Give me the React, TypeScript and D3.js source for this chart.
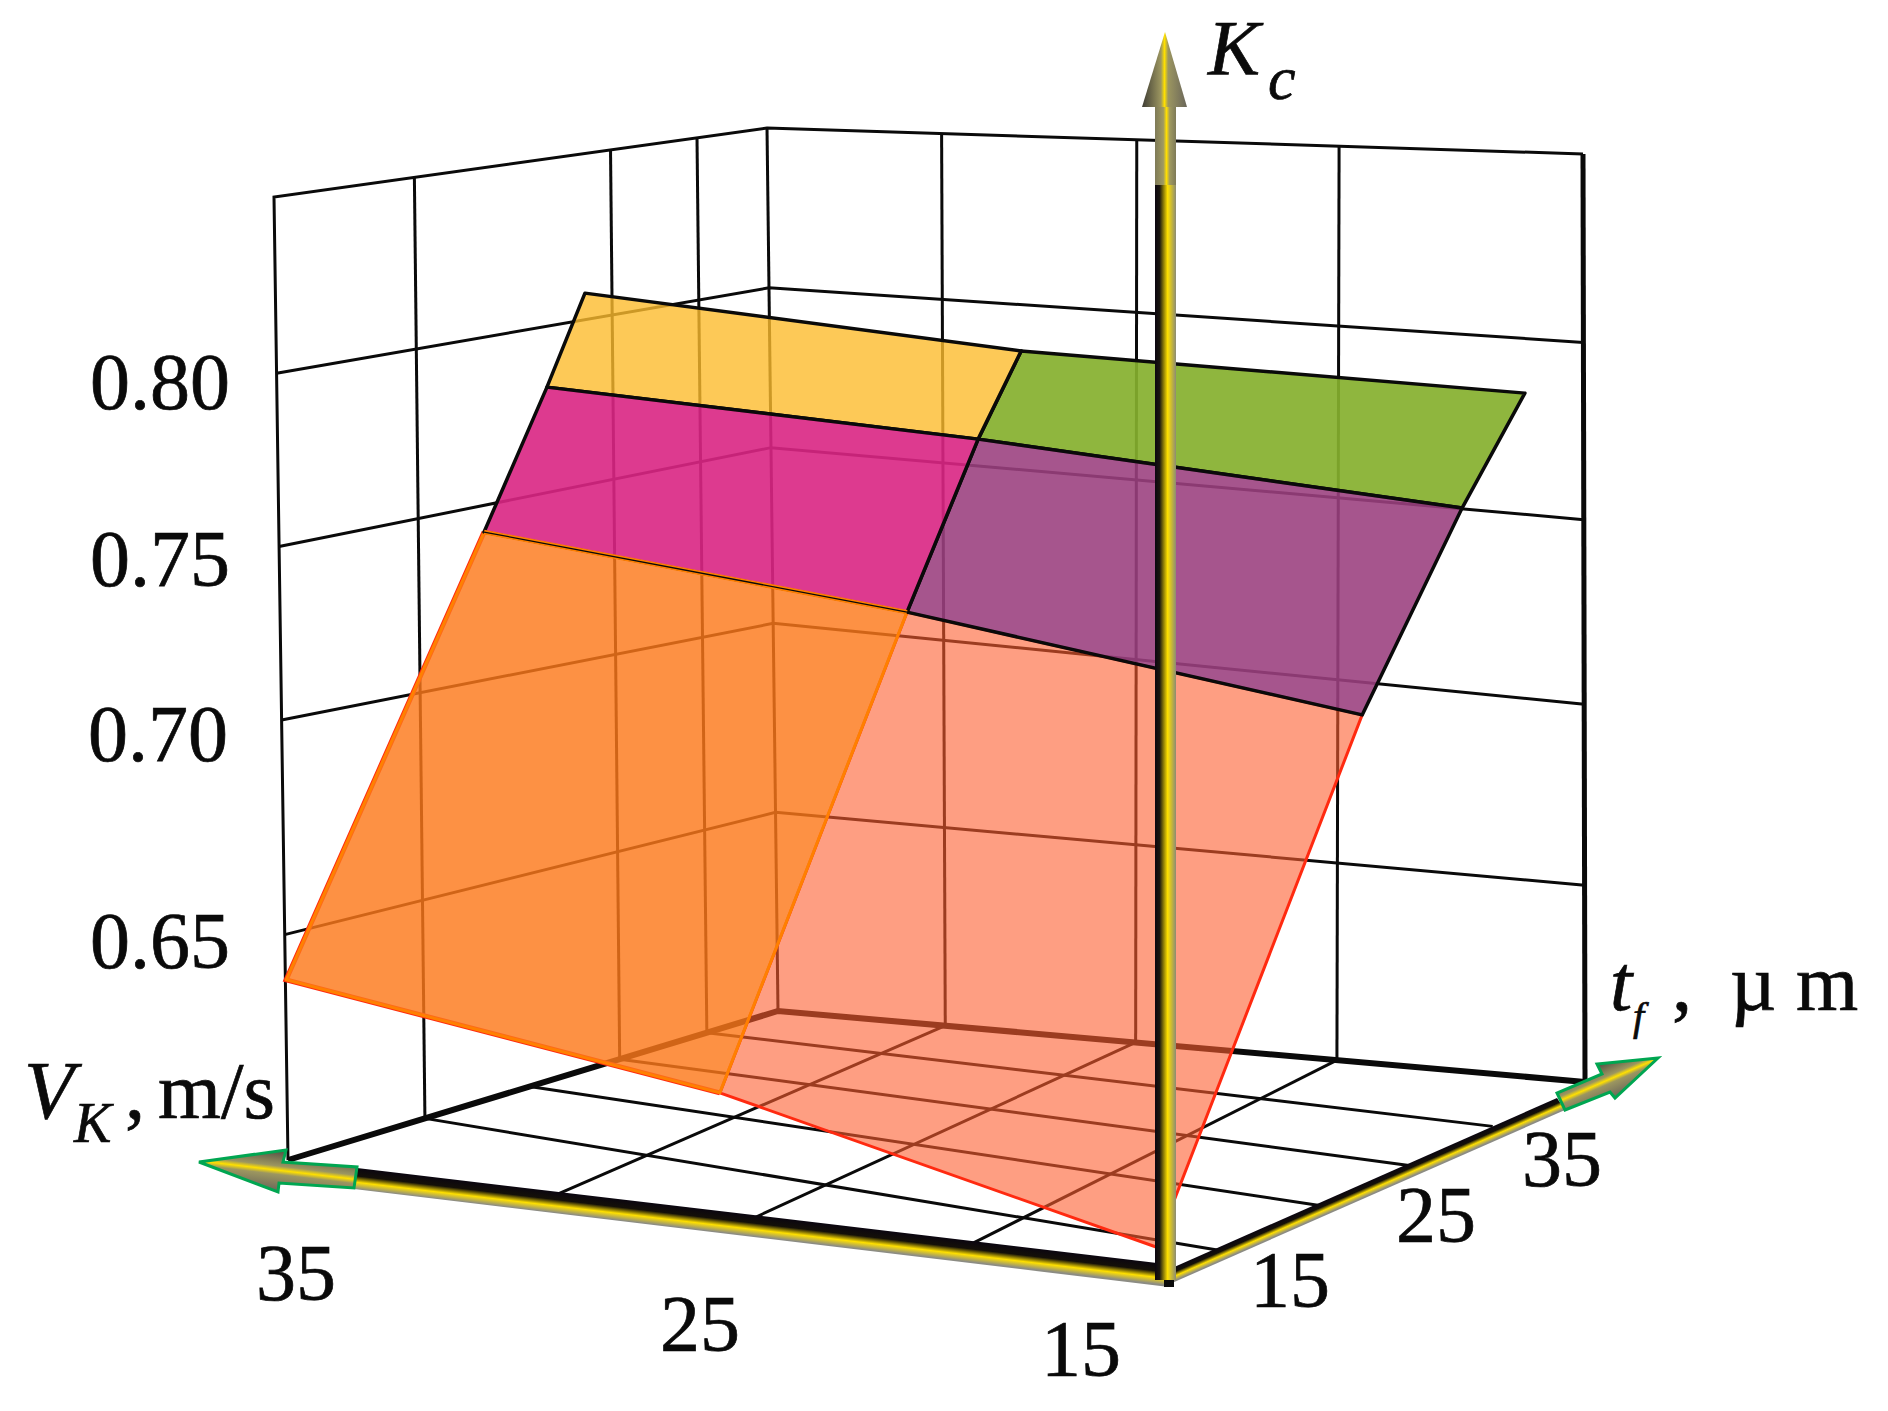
import { useEffect, useRef } from "react";
import * as d3 from "d3";

// box corners on the page: front, left, right, back
const floorX = [1169, 288, 1585, 778];
const floorY = [1282, 1160, 1082, 1011];
const topX = [1214, 274, 1583, 767];
const topY = [242, 197, 154, 128];

const vGridTicks = [20, 25, 30];
const tFloorTicks = [15, 20, 25, 30];
const tWallTicks = [15, 25, 30];
const kTicks = [0.65, 0.7, 0.75, 0.8];
const vMin = 15;
const vMax = 35;
const tMin = 11;
const tMax = 35;

// surface, one row per t_f, columns from the far V_K side to the near one
const tRows = [15, 25, 30, 35];
const surfaceV = [
  [38.28, 28.12, 16.74],
  [38.52, 27.43, 16.23],
  [39.5, 27.39, 15.76],
  [40.68, 27.93, 16.16],
];
const surfaceK = [
  [0.627, 0.6148, 0.5957],
  [0.7324, 0.7203, 0.7044],
  [0.77, 0.7627, 0.7522],
  [0.7959, 0.7838, 0.778],
];

const cellFill = [
  ["#fd791b", "#fd5d2f"],
  ["#da2784", "#9b407f"],
  ["#fcbb2d", "#85b02e"],
];
const cellAlpha = [
  [0.82, 0.6],
  [0.91, 0.89],
  [0.8, 0.92],
];
const cellStroke = [
  ["#ff8000", "#ff2a10"],
  ["#0a0a0a", "#0a0a0a"],
  ["#0a0a0a", "#0a0a0a"],
];

const vBreaks = [15, 20, 25, 30, 35];
const tBreaks = [11, 15, 20, 25, 30, 35];
const scaleVFront = d3.scaleLinear().domain(vBreaks).range([0, 0.207, 0.432, 0.655, 1]);
const scaleVBack = d3.scaleLinear().domain(vBreaks).range([0, 0.272, 0.514, 0.763, 1]);
const scaleTNear = d3.scaleLinear().domain(tBreaks).range([0, 0.124, 0.33, 0.53, 0.74, 1]);
const scaleTFar = d3.scaleLinear().domain(tBreaks).range([0, 0.246, 0.45, 0.638, 0.832, 1]);
const scaleK = d3.scaleLinear().domain(kTicks).range([0.225, 0.439, 0.638, 0.819]);
const scaleKLeft = d3.scaleLinear().domain(kTicks).range([0.234, 0.457, 0.637, 0.817]);
const scaleKRight = d3.scaleLinear().domain(kTicks).range([0.212, 0.407, 0.606, 0.797]);

function solve(A: number[][], b: number[]) {
  const n = b.length;
  const M = A.map((r, i) => [...r, b[i]]);
  for (let c = 0; c < n; c++) {
    let p = c;
    for (let r = c + 1; r < n; r++) if (Math.abs(M[r][c]) > Math.abs(M[p][c])) p = r;
    [M[c], M[p]] = [M[p], M[c]];
    for (let r = 0; r < n; r++) {
      if (r === c) continue;
      const f = M[r][c] / M[c][c];
      for (let k = c; k <= n; k++) M[r][k] -= f * M[c][k];
    }
  }
  return M.map((r, i) => r[n] / r[i]);
}

// maps the unit square on a face of the box to its four corners
function faceMap(xs: number[], ys: number[]) {
  const uv = [[0, 0], [1, 0], [0, 1], [1, 1]];
  const A: number[][] = [];
  const b: number[] = [];
  uv.forEach(([u, v], i) => {
    const x = xs[i] / 1000, y = ys[i] / 1000;
    A.push([u, v, 1, 0, 0, 0, -x * u, -x * v]); b.push(x);
    A.push([0, 0, 0, u, v, 1, -y * u, -y * v]); b.push(y);
  });
  const h = solve(A, b);
  return (u: number, v: number) => {
    const d = h[6] * u + h[7] * v + 1;
    return [((h[0] * u + h[1] * v + h[2]) / d) * 1000, ((h[3] * u + h[4] * v + h[5]) / d) * 1000];
  };
}

const serif = "'Liberation Serif', 'Times New Roman', serif";

export default function App() {
  const svgRef = useRef<SVGSVGElement>(null);

  useEffect(() => {
    const svg = d3.select(svgRef.current);
    svg.selectAll("*").remove();
    const floor = faceMap(floorX, floorY);
    const top = faceMap(topX, topY);
    const project = (V: number, t: number, w: number): [number, number] => {
      const g = (t - tMin) / (tMax - tMin);
      const h = (V - vMin) / (vMax - vMin);
      const u = scaleVFront(V) * (1 - g) + scaleVBack(V) * g;
      const v = scaleTNear(t) * (1 - h) + scaleTFar(t) * h;
      const a = floor(u, v), b = top(u, v);
      return [a[0] + (b[0] - a[0]) * w, a[1] + (b[1] - a[1]) * w];
    };
    const path = d3.line();
    const seg = (pts: [number, number, number][], width: number, color = "#0a0a0a") =>
      svg.append("path").attr("d", path(pts.map((q) => project(q[0], q[1], q[2]))))
        .attr("fill", "none").attr("stroke", color).attr("stroke-width", width);

    // walls
    tWallTicks.forEach((t) => seg([[vMax, t, 0], [vMax, t, 1]], 3));
    vGridTicks.forEach((V) => seg([[V, tMax, 0], [V, tMax, 1]], 3));
    kTicks.forEach((k) => seg([[vMax, tMin, scaleKLeft(k)], [vMax, tMax, scaleK(k)], [vMin, tMax, scaleKRight(k)]], 3));
    seg([[vMax, tMin, 0], [vMax, tMin, 1], [vMax, tMax, 1], [vMin, tMax, 1]], 3);
    seg([[vMax, tMax, 0], [vMax, tMax, 1]], 3);
    seg([[vMin, tMax, 0], [vMin, tMax, 1]], 5);
    // floor
    tFloorTicks.forEach((t) => seg([[vMax, t, 0], [vMin, t, 0]], 3));
    vGridTicks.forEach((V) => seg([[V, tMin, 0], [V, tMax, 0]], 3));
    seg([[vMax, tMin, 0], [vMax, tMax, 0], [vMin, tMax, 0]], 6);

    // surface
    const corner = (r: number, c: number): [number, number, number] => [surfaceV[r][c], tRows[r], scaleK(surfaceK[r][c])];
    const cell = (r: number, c: number) => {
      const pts = [corner(r, c), corner(r, c + 1), corner(r + 1, c + 1), corner(r + 1, c)];
      svg.append("path")
        .attr("d", path(pts.map((q) => project(q[0], q[1], q[2])))! + "Z")
        .attr("fill", cellFill[r][c]).attr("fill-opacity", cellAlpha[r][c])
        .attr("stroke", cellStroke[r][c]).attr("stroke-width", r === 0 ? 3 : 3.5).attr("stroke-linejoin", "round");
    };
    cell(0, 1);
    seg([corner(1, 0), corner(0, 0), corner(0, 1)], 5, "#ff2a10");
    cell(0, 0);
    [[2, 1], [2, 0], [1, 1], [1, 0]].forEach(([r, c]) => cell(r, c));
    seg([corner(1, 0), corner(1, 1)], 4.5, "#ff8000");
    seg([corner(1, 0), corner(1, 1)], 1.3);

    // axes
    const defs = svg.append("defs");
    const grad = (id: string, x1: number, y1: number, x2: number, y2: number, stops: [number, string][]) => {
      const g = defs.append("linearGradient").attr("id", id).attr("gradientUnits", "userSpaceOnUse")
        .attr("x1", x1).attr("y1", y1).attr("x2", x2).attr("y2", y2);
      stops.forEach(([o, c]) => g.append("stop").attr("offset", o).attr("stop-color", c));
    };
    // gradient across a band, starting on its edge a-b and running width px to its right
    const across = (id: string, a: number[], b: number[], width: number, stops: [number, string][]) => {
      const dx = b[0] - a[0], dy = b[1] - a[1], len = Math.hypot(dx, dy);
      grad(id, a[0], a[1], a[0] - (dy / len) * width, a[1] + (dx / len) * width, stops);
    };
    const shaft: [number, string][] = [[0, "#0b0610"], [0.38, "#141008"], [0.68, "#ffe000"], [1, "#8c8c84"]];
    const head: [number, string][] = [[0, "#4f4c44"], [0.4, "#9c9660"], [0.5, "#ffe000"], [0.6, "#9c9660"], [1, "#6a665a"]];
    const poly = (pts: [number, number][], fill: string, stroke = "none", sw = 0) =>
      svg.append("path").attr("d", path(pts)! + "Z").attr("fill", fill).attr("stroke", stroke).attr("stroke-width", sw);

    // V axis
    across("vShaft", [357, 1168], [1157, 1263], 21, shaft);
    poly([[357, 1168], [1157, 1263], [1169, 1287], [354, 1189]], "url(#vShaft)");
    across("vHead", [286, 1150], [1086, 1245], 42, head);
    poly([[199, 1162], [286, 1150], [283, 1162], [357, 1167], [354, 1188], [279, 1183], [278, 1192]], "url(#vHead)", "#00a651", 3);

    // t axis
    across("tShaft", [1178, 1265], [1557, 1098], 13, shaft);
    poly([[1172, 1268], [1557, 1098], [1565, 1110], [1172, 1283]], "url(#tShaft)");
    across("tHead", [1597, 1064], [1982, 897], 38, head);
    poly([[1658, 1058], [1597, 1064], [1602, 1074], [1557, 1093], [1565, 1110], [1610, 1092], [1615, 1098]], "url(#tHead)", "#00a651", 3);

    // Kc axis
    grad("kShaft", 1155, 0, 1176, 0, [[0, "#0b0610"], [0.22, "#1a1610"], [0.6, "#ffe000"], [1, "#8c8c74"]]);
    poly([[1155, 185], [1176, 185], [1176, 1280], [1155, 1280]], "url(#kShaft)");
    grad("kUpper", 1155, 0, 1176, 0, [[0, "#7e7a58"], [0.4, "#a09a60"], [0.55, "#ffe000"], [0.7, "#a09a60"], [1, "#7e7a58"]]);
    poly([[1155, 107], [1176, 107], [1176, 185], [1155, 185]], "url(#kUpper)");
    grad("kHead", 1142, 0, 1187, 0, [[0, "#3e3c34"], [0.42, "#9c9660"], [0.5, "#ffe000"], [0.58, "#9c9660"], [1, "#6a665a"]]);
    poly([[1165, 32], [1187, 107], [1142, 107]], "url(#kHead)");
    poly([[1164, 1280], [1174, 1280], [1174, 1287], [1164, 1287]], "#0a0a0a");

    // labels
    const label = (s: string, x: number, y: number, size = 80, italic = false) =>
      svg.append("text").attr("x", x).attr("y", y).attr("font-family", serif).attr("font-size", size)
        .attr("font-style", italic ? "italic" : "normal").attr("fill", "#0a0a0a")
        .attr("stroke", "#0a0a0a").attr("stroke-width", 0.7).text(s);
    label("0.80", 90, 409);
    label("0.75", 90, 586);
    label("0.70", 88, 761);
    label("0.65", 90, 968);
    label("35", 256, 1300);
    label("25", 660, 1351);
    label("15", 1041, 1376);
    label("15", 1250, 1307);
    label("25", 1396, 1242);
    label("35", 1522, 1186);
    label("K", 1208, 74, 78, true);
    label("c", 1268, 99, 62, true);
    label("V", 24, 1118, 82, true);
    label("K", 74, 1142, 56, true);
    label(",", 125, 1118, 80);
    label("m/s", 158, 1118, 81);
    label("t", 1610, 1010, 80, true);
    label("f", 1633, 1030, 40, true);
    label(",", 1672, 1010, 80);
    label("µ", 1730, 1010, 80);
    label("m", 1796, 1010, 80);
  }, []);

  return <svg ref={svgRef} width={1888} height={1411} style={{ position: "absolute", left: 0, top: 0 }} />;
}
